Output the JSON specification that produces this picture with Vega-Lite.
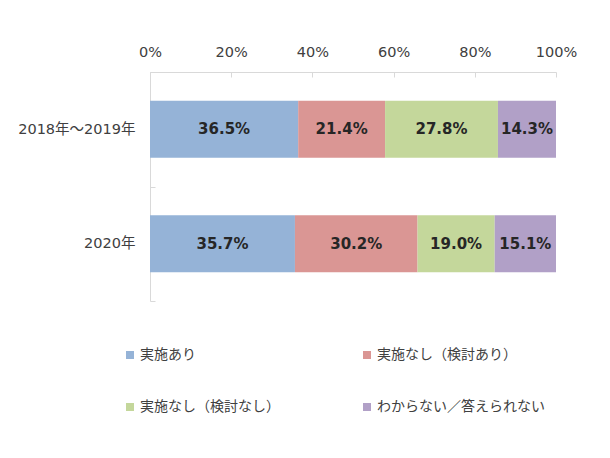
{
  "$schema": "https://vega.github.io/schema/vega-lite/v6.json",
  "autosize": "none",
  "width": 406,
  "height": 229,
  "padding": {"left": 150, "top": 72, "right": 54, "bottom": 157},
  "background": "white",
  "config": {
    "font": "DejaVu Sans, Noto Sans CJK JP",
    "view": {"stroke": null}
  },
  "data": {
    "values": [
      {"period": "2018年～2019年", "answer": "実施あり", "order": 1, "value": 0.365},
      {"period": "2018年～2019年", "answer": "実施なし（検討あり）", "order": 2, "value": 0.214},
      {"period": "2018年～2019年", "answer": "実施なし（検討なし）", "order": 3, "value": 0.278},
      {"period": "2018年～2019年", "answer": "わからない／答えられない", "order": 4, "value": 0.143},
      {"period": "2020年", "answer": "実施あり", "order": 1, "value": 0.357},
      {"period": "2020年", "answer": "実施なし（検討あり）", "order": 2, "value": 0.302},
      {"period": "2020年", "answer": "実施なし（検討なし）", "order": 3, "value": 0.190},
      {"period": "2020年", "answer": "わからない／答えられない", "order": 4, "value": 0.151}
    ]
  },
  "transform": [
    {"stack": "value", "groupby": ["period"], "sort": [{"field": "order", "order": "ascending"}], "as": ["x0", "x1"]},
    {"calculate": "(datum.x0 + datum.x1) / 2", "as": "xmid"}
  ],
  "encoding": {
    "y": {
      "field": "period",
      "type": "nominal",
      "sort": ["2018年～2019年", "2020年"],
      "scale": {"paddingInner": 0, "paddingOuter": 0},
      "axis": {
        "title": null,
        "tickBand": "extent",
        "domainColor": "#D9D9D9",
        "tickColor": "#D9D9D9",
        "tickSize": -5,
        "labelPadding": 20,
        "labelFontSize": 14.5,
        "labelColor": "#404040",
        "labelFont": "DejaVu Sans, Noto Sans CJK JP"
      }
    }
  },
  "layer": [
    {
      "mark": {"type": "bar", "size": 57},
      "encoding": {
        "x": {
          "field": "x0",
          "type": "quantitative",
          "scale": {"domain": [0, 1], "nice": false},
          "axis": {
            "orient": "top",
            "title": null,
            "values": [0, 0.2, 0.4, 0.6, 0.8, 1],
            "format": ".0%",
            "grid": false,
            "labelFlush": false,
            "domainColor": "#D9D9D9",
            "tickColor": "#D9D9D9",
            "tickSize": -5,
            "labelPadding": 18,
            "labelFontSize": 14.5,
            "labelColor": "#404040",
            "labelFont": "DejaVu Sans, Noto Sans CJK JP"
          }
        },
        "x2": {"field": "x1"},
        "color": {
          "field": "answer",
          "type": "nominal",
          "scale": {
            "domain": ["実施あり", "実施なし（検討あり）", "実施なし（検討なし）", "わからない／答えられない"],
            "range": ["#95B3D7", "#DA9694", "#C4D79B", "#B1A0C7"]
          },
          "legend": {
            "title": null,
            "orient": "none",
            "direction": "horizontal",
            "legendX": -27,
            "legendY": 276,
            "columns": 2,
            "columnPadding": 80,
            "rowPadding": 38,
            "symbolType": "square",
            "symbolSize": 64,
            "symbolStrokeWidth": 0,
            "labelFontSize": 14,
            "labelColor": "#404040",
            "labelFont": "Noto Sans CJK JP",
            "labelOffset": 3,
            "labelLimit": 300
          }
        }
      }
    },
    {
      "mark": {"type": "text", "fontSize": 15, "fontWeight": "bold", "color": "#262626", "font": "DejaVu Sans"},
      "encoding": {
        "x": {"field": "xmid", "type": "quantitative"},
        "text": {"field": "value", "type": "quantitative", "format": ".1%"}
      }
    }
  ]
}
